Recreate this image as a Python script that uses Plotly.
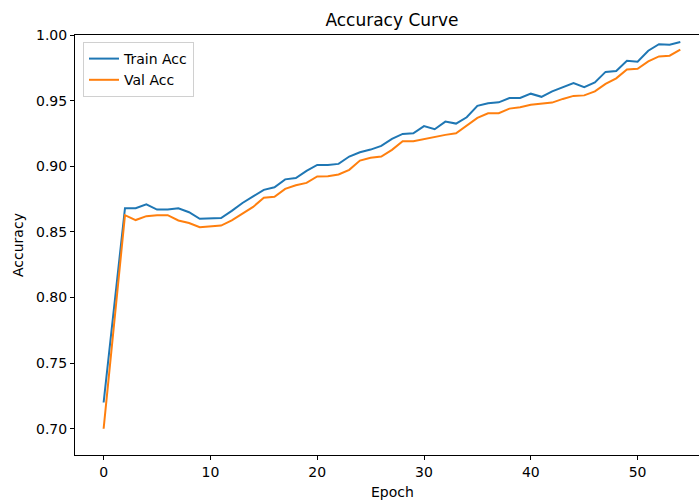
import plotly.graph_objects as go

epochs = list(range(55))
train_acc = [0.720, 0.794, 0.868, 0.868, 0.871, 0.867, 0.867, 0.868, 0.865, 0.860,
             0.860, 0.8605, 0.866, 0.872, 0.877, 0.882, 0.884, 0.890, 0.891, 0.8965,
             0.901, 0.901, 0.9018, 0.9074, 0.9107, 0.9127, 0.9155, 0.9208, 0.9246, 0.9251,
             0.9306, 0.9282, 0.934, 0.9325, 0.9373, 0.946, 0.948, 0.9487, 0.952, 0.952,
             0.9553, 0.9529, 0.957, 0.9602, 0.9633, 0.9602, 0.9638, 0.9719, 0.9726, 0.9804,
             0.9797, 0.988, 0.993, 0.9925, 0.9946]
val_acc = [0.700, 0.781, 0.8627, 0.859, 0.862, 0.8627, 0.8627, 0.8587, 0.8568, 0.8536,
           0.8542, 0.8548, 0.8588, 0.864, 0.869, 0.876, 0.8767, 0.8828, 0.8855, 0.8873,
           0.8922, 0.8924, 0.8937, 0.8973, 0.9043, 0.9064, 0.9074, 0.9125, 0.919, 0.919,
           0.9206, 0.9226, 0.9239, 0.9251, 0.9307, 0.9368, 0.9404, 0.9404, 0.9439, 0.945,
           0.9468, 0.9475, 0.9485, 0.9513, 0.9536, 0.954, 0.957, 0.9627, 0.967, 0.9738,
           0.9743, 0.9799, 0.9837, 0.9842, 0.9888]
x_ticks = [0, 10, 20, 30, 40, 50]
y_ticks = [0.70, 0.75, 0.80, 0.85, 0.90, 0.95, 1.00]

FONT = "DejaVu Sans"
FS = 14
W, H = 699, 502
L, R, T, B = 75, 0, 35, 47

fig = go.Figure()
fig.add_trace(go.Scatter(x=epochs, y=train_acc, mode="lines", name="Train Acc",
                         line=dict(color="#1f77b4", width=2)))
fig.add_trace(go.Scatter(x=epochs, y=val_acc, mode="lines", name="Val Acc",
                         line=dict(color="#ff7f0e", width=2)))

fig.update_layout(
    width=W, height=H,
    margin=dict(l=L, r=R, t=T, b=B, pad=0),
    paper_bgcolor="white", plot_bgcolor="white",
    font=dict(family=FONT, size=FS, color="black"),
    title=dict(text="Accuracy Curve", x=392 / W, xanchor="center",
               xref="container", y=1 - 20 / H, yref="container", yanchor="middle",
               font=dict(family=FONT, size=17, color="black")),
    showlegend=True,
    legend=dict(x=(83 - L) / (W - L - R), y=(H - B - 42) / (H - T - B),
                xanchor="left", yanchor="top",
                bgcolor="rgba(255,255,255,0.8)", bordercolor="#d0d0d0", borderwidth=1,
                font=dict(family=FONT, size=FS, color="black"),
                tracegroupgap=0, itemwidth=30),
    xaxis=dict(range=[-2.68, 55.75], tickmode="array", tickvals=x_ticks,
               ticktext=[str(v) for v in x_ticks],
               showgrid=False, zeroline=False, showline=True, linecolor="black",
               linewidth=1, mirror=True, ticks="outside", ticklen=4, tickwidth=1,
               tickcolor="black", tickfont=dict(family=FONT, size=FS, color="black")),
    yaxis=dict(range=[0.68, 1.0], tickmode="array", tickvals=y_ticks,
               ticktext=[f"{v:.2f}" for v in y_ticks],
               showgrid=False, zeroline=False, showline=True, linecolor="black",
               linewidth=1, ticks="outside", ticklen=4, tickwidth=1,
               tickcolor="black", tickfont=dict(family=FONT, size=FS, color="black")),
    annotations=[
        dict(text="Epoch", xref="paper", yref="paper", x=(392 - L) / (W - L - R),
             y=-(492 - (H - B)) / (H - T - B), xanchor="center", yanchor="middle",
             showarrow=False, font=dict(family=FONT, size=FS, color="black")),
        dict(text="Accuracy", xref="paper", yref="paper", x=-(L - 18) / (W - L - R),
             y=(H - B - 245) / (H - T - B), xanchor="center", yanchor="middle",
             textangle=-90, showarrow=False, font=dict(family=FONT, size=FS, color="black")),
    ],
)

fig.write_html("out.html")
